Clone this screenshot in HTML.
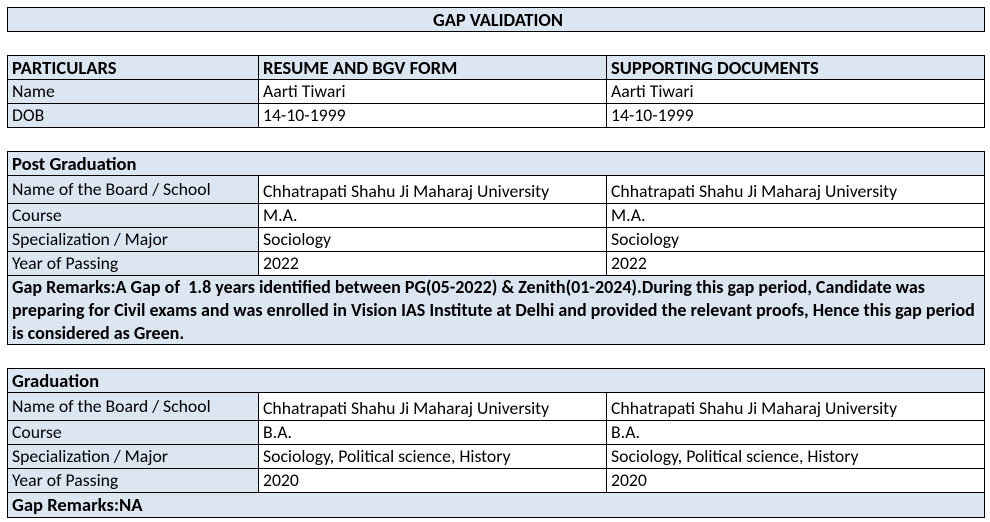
<!DOCTYPE html>
<html><head><style>
body{margin:0;width:990px;height:522px;background:#fff;position:relative;overflow:hidden;font-family:Carlito,Calibri,"Liberation Sans",sans-serif;font-size:17.7px;color:#000}
.c{position:absolute;box-sizing:border-box;border:1px solid #000;padding-left:4px;white-space:nowrap;overflow:hidden;line-height:23px}
.b{background:#dce6f1}
.w{background:#fff}
.bold{font-weight:bold;font-size:18.6px}
</style></head><body>
<div class="c b bold" style="left:7px;top:7px;width:978px;height:25px;text-align:center;line-height:23px;font-size:18.4px">GAP VALIDATION</div>

<div class="c b bold" style="left:7px;top:55px;width:252px;height:25px">PARTICULARS</div>
<div class="c b bold" style="left:258px;top:55px;width:349px;height:25px">RESUME AND BGV FORM</div>
<div class="c b bold" style="left:606px;top:55px;width:379px;height:25px">SUPPORTING DOCUMENTS</div>
<div class="c b" style="left:7px;top:79px;width:252px;height:25px">Name</div>
<div class="c w" style="left:258px;top:79px;width:349px;height:25px">Aarti Tiwari</div>
<div class="c w" style="left:606px;top:79px;width:379px;height:25px">Aarti Tiwari</div>
<div class="c b" style="left:7px;top:103px;width:252px;height:25px">DOB</div>
<div class="c w" style="left:258px;top:103px;width:349px;height:25px">14-10-1999</div>
<div class="c w" style="left:606px;top:103px;width:379px;height:25px">14-10-1999</div>

<div class="c b bold" style="left:7px;top:151px;width:978px;height:25px">Post Graduation</div>
<div class="c b" style="left:7px;top:175px;width:252px;height:29px;line-height:26px">Name of the Board / School</div>
<div class="c w" style="left:258px;top:175px;width:349px;height:29px;line-height:30px">Chhatrapati Shahu Ji Maharaj University</div>
<div class="c w" style="left:606px;top:175px;width:379px;height:29px;line-height:30px">Chhatrapati Shahu Ji Maharaj University</div>
<div class="c b" style="left:7px;top:203px;width:252px;height:25px">Course</div>
<div class="c w" style="left:258px;top:203px;width:349px;height:25px">M.A.</div>
<div class="c w" style="left:606px;top:203px;width:379px;height:25px">M.A.</div>
<div class="c b" style="left:7px;top:227px;width:252px;height:25px">Specialization / Major</div>
<div class="c w" style="left:258px;top:227px;width:349px;height:25px">Sociology</div>
<div class="c w" style="left:606px;top:227px;width:379px;height:25px">Sociology</div>
<div class="c b" style="left:7px;top:251px;width:252px;height:25px">Year of Passing</div>
<div class="c w" style="left:258px;top:251px;width:349px;height:25px">2022</div>
<div class="c w" style="left:606px;top:251px;width:379px;height:25px">2022</div>
<div class="c b bold" style="left:7px;top:275px;width:978px;height:70px;line-height:23px;font-size:18px">Gap Remarks:A Gap of&nbsp; 1.8 years identified between PG(05-2022) &amp; Zenith(01-2024).During this gap period, Candidate was<br>preparing for Civil exams and was enrolled in Vision IAS Institute at Delhi and provided the relevant proofs, Hence this gap period<br>is considered as Green.</div>

<div class="c b bold" style="left:7px;top:368px;width:978px;height:25px">Graduation</div>
<div class="c b" style="left:7px;top:392px;width:252px;height:29px;line-height:26px">Name of the Board / School</div>
<div class="c w" style="left:258px;top:392px;width:349px;height:29px;line-height:30px">Chhatrapati Shahu Ji Maharaj University</div>
<div class="c w" style="left:606px;top:392px;width:379px;height:29px;line-height:30px">Chhatrapati Shahu Ji Maharaj University</div>
<div class="c b" style="left:7px;top:420px;width:252px;height:25px">Course</div>
<div class="c w" style="left:258px;top:420px;width:349px;height:25px">B.A.</div>
<div class="c w" style="left:606px;top:420px;width:379px;height:25px">B.A.</div>
<div class="c b" style="left:7px;top:444px;width:252px;height:25px">Specialization / Major</div>
<div class="c w" style="left:258px;top:444px;width:349px;height:25px">Sociology, Political science, History</div>
<div class="c w" style="left:606px;top:444px;width:379px;height:25px">Sociology, Political science, History</div>
<div class="c b" style="left:7px;top:468px;width:252px;height:25px">Year of Passing</div>
<div class="c w" style="left:258px;top:468px;width:349px;height:25px">2020</div>
<div class="c w" style="left:606px;top:468px;width:379px;height:25px">2020</div>
<div class="c b bold" style="left:7px;top:492px;width:978px;height:26px">Gap Remarks:NA</div>
</body></html>
